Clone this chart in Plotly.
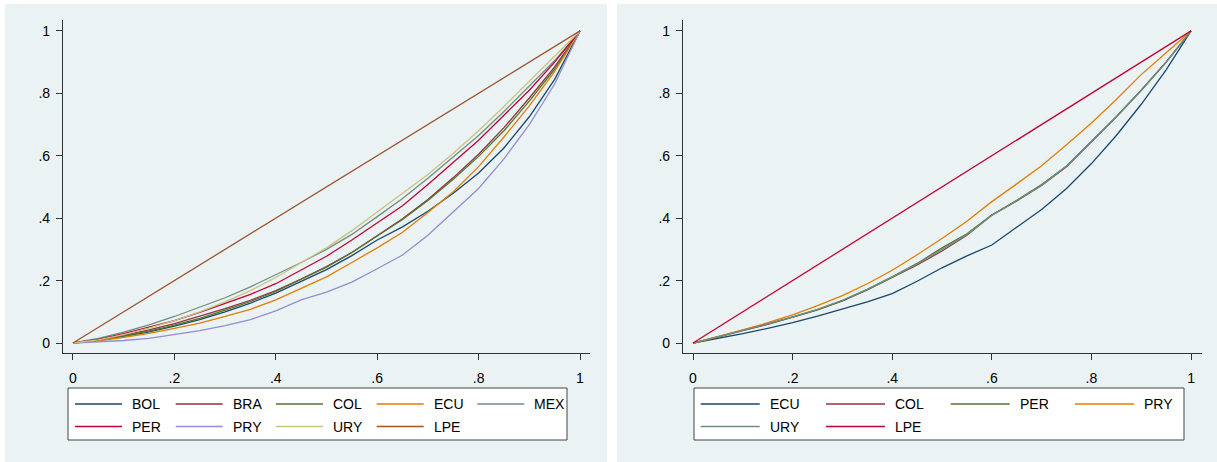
import plotly.graph_objects as go

# Population share (x) at which each concentration curve is sampled
share = [0, .05, .1, .15, .2, .25, .3, .35, .4, .45, .5, .55, .6, .65, .7, .75, .8, .85, .9, .95, 1]

# Left panel: cumulative share by country
bol = [0, .008, .021, .036, .054, .075, .100, .128, .160, .197, .235, .280, .330, .372, .422, .480, .545, .625, .725, .845, 1]
bra = [0, .010, .025, .042, .062, .085, .110, .137, .168, .205, .245, .290, .343, .398, .460, .530, .605, .690, .785, .885, 1]
col = [0, .009, .022, .038, .057, .079, .105, .133, .165, .203, .243, .290, .342, .396, .457, .525, .598, .680, .775, .878, 1]
ecu = [0, .007, .018, .031, .047, .064, .085, .108, .138, .175, .212, .258, .305, .355, .418, .485, .565, .660, .760, .870, 1]
mex = [0, .015, .035, .058, .085, .114, .145, .180, .218, .258, .300, .348, .405, .463, .528, .595, .665, .742, .822, .905, 1]
per = [0, .012, .030, .050, .072, .098, .126, .156, .190, .235, .278, .330, .385, .440, .508, .578, .650, .730, .810, .900, 1]
pry = [0, .003, .008, .015, .027, .040, .056, .075, .103, .138, .163, .195, .238, .282, .345, .420, .495, .590, .700, .830, 1]
ury = [0, .010, .027, .048, .072, .100, .132, .168, .210, .258, .305, .360, .420, .478, .540, .608, .680, .758, .838, .918, 1]

# Right panel
ecu_r = [0, .014, .030, .047, .065, .086, .108, .132, .158, .198, .241, .279, .314, .370, .428, .495, .575, .665, .765, .875, 1]
col_r = [0, .019, .040, .060, .082, .106, .135, .170, .210, .250, .295, .345, .410, .455, .505, .565, .645, .725, .810, .900, 1]
per_r = [0, .019, .041, .061, .083, .107, .136, .172, .212, .255, .305, .350, .410, .457, .508, .567, .645, .725, .810, .900, 1]
pry_r = [0, .020, .042, .065, .090, .120, .152, .190, .233, .283, .335, .390, .453, .510, .568, .635, .705, .780, .860, .930, 1]
ury_r = [0, .020, .041, .061, .084, .108, .137, .172, .212, .253, .300, .347, .409, .456, .506, .566, .645, .725, .810, .900, 1]

lpe_x = [0, 1]
lpe_y = [0, 1]

NAVY, MAROON, FOREST = "#1a476f", "#90353b", "#55752f"
ORANGE, TEAL, CRAN = "#e37e00", "#6e8e84", "#c10534"
LAV, KHAKI, SIENNA = "#938dd2", "#cac27e", "#a0522d"

left_series = [("BOL", bol, NAVY), ("BRA", bra, MAROON), ("COL", col, FOREST),
               ("ECU", ecu, ORANGE), ("MEX", mex, TEAL), ("PER", per, CRAN),
               ("PRY", pry, LAV), ("URY", ury, KHAKI)]
right_series = [("ECU", ecu_r, NAVY), ("COL", col_r, MAROON), ("PER", per_r, FOREST),
                ("PRY", pry_r, ORANGE), ("URY", ury_r, TEAL)]

W, H = 1217, 462
BG = "#eaf2f3"


def px(x):
    return x / W


def py(y):
    return 1 - y / H


fig = go.Figure()
for name, ys, c in left_series:
    fig.add_trace(go.Scatter(x=share, y=ys, mode="lines", name=name,
                             line=dict(color=c, width=1.3), xaxis="x", yaxis="y",
                             showlegend=False))
fig.add_trace(go.Scatter(x=lpe_x, y=lpe_y, mode="lines", name="LPE",
                         line=dict(color=SIENNA, width=1.3), xaxis="x", yaxis="y",
                         showlegend=False))
for name, ys, c in right_series:
    fig.add_trace(go.Scatter(x=share, y=ys, mode="lines", name=name,
                             line=dict(color=c, width=1.3), xaxis="x2", yaxis="y2",
                             showlegend=False))
fig.add_trace(go.Scatter(x=lpe_x, y=lpe_y, mode="lines", name="LPE",
                         line=dict(color=CRAN, width=1.3), xaxis="x2", yaxis="y2",
                         showlegend=False))

ticks = [0, .2, .4, .6, .8, 1]
ticktext = ["0", ".2", ".4", ".6", ".8", "1"]
font = dict(family="Liberation Sans, Arial, sans-serif", size=14, color="#000")

xcommon = dict(tickmode="array", tickvals=ticks, ticktext=ticktext, showgrid=False,
               zeroline=False, showline=True, linecolor="#333", linewidth=1.2,
               ticks="outside", ticklen=6, tickcolor="#333", tickwidth=1.2,
               tickfont=font, ticklabelstandoff=6)
ycommon = dict(tickmode="array", tickvals=ticks, ticktext=ticktext, showgrid=True,
               gridcolor=BG, gridwidth=1, zeroline=False, showline=True,
               linecolor="#333", linewidth=1.2, ticks="outside", ticklen=6,
               tickcolor="#333", tickwidth=1.2, tickfont=font, ticklabelstandoff=3)

y_dom = [py(353), py(20)]
fig.update_layout(
    width=W, height=H, margin=dict(l=0, r=0, t=0, b=0),
    paper_bgcolor="white", plot_bgcolor="white", font=font,
    xaxis=dict(domain=[px(63), px(590)], range=[-0.0197, 1.0197], anchor="y", **xcommon),
    yaxis=dict(domain=y_dom, range=[-0.032, 1.035], anchor="x", **ycommon),
    xaxis2=dict(domain=[px(683), px(1202)], range=[-0.0201, 1.022], anchor="y2", **xcommon),
    yaxis2=dict(domain=y_dom, range=[-0.032, 1.035], anchor="x2", **ycommon),
)

shapes = []
annotations = []
# Graph-region backgrounds
for x0, x1 in [(5, 607), (617, 1217)]:
    shapes.append(dict(type="rect", xref="paper", yref="paper", layer="below",
                       x0=px(x0), x1=px(x1), y0=py(462), y1=py(4),
                       fillcolor=BG, line=dict(width=0)))


def legend_box(x0, x1, entries, sw_starts, sw_len, rows_y):
    shapes.append(dict(type="rect", xref="paper", yref="paper",
                       x0=px(x0), x1=px(x1), y0=py(440), y1=py(388),
                       fillcolor="white", line=dict(color="#444", width=1)))
    ncol = len(sw_starts)
    for i, (name, c) in enumerate(entries):
        r, k = divmod(i, ncol)
        yy = rows_y[r]
        s = sw_starts[k]
        shapes.append(dict(type="line", xref="paper", yref="paper",
                           x0=px(s), x1=px(s + sw_len), y0=py(yy), y1=py(yy),
                           line=dict(color=c, width=1.5)))
        annotations.append(dict(text=name, xref="paper", yref="paper",
                                x=px(s + sw_len + 8), y=py(yy), xanchor="left",
                                yanchor="middle", showarrow=False, font=font))


legend_box(68, 567,
           [(n, c) for n, _, c in left_series] + [("LPE", SIENNA)],
           [75, 175.7, 276, 376.7, 477.3], 47, [404, 426.5])
legend_box(694, 1184,
           [(n, c) for n, _, c in right_series] + [("LPE", CRAN)],
           [700.7, 826, 950.7, 1075], 59, [404, 426.5])

fig.update_layout(shapes=shapes, annotations=annotations)
fig.write_html("out.html")
